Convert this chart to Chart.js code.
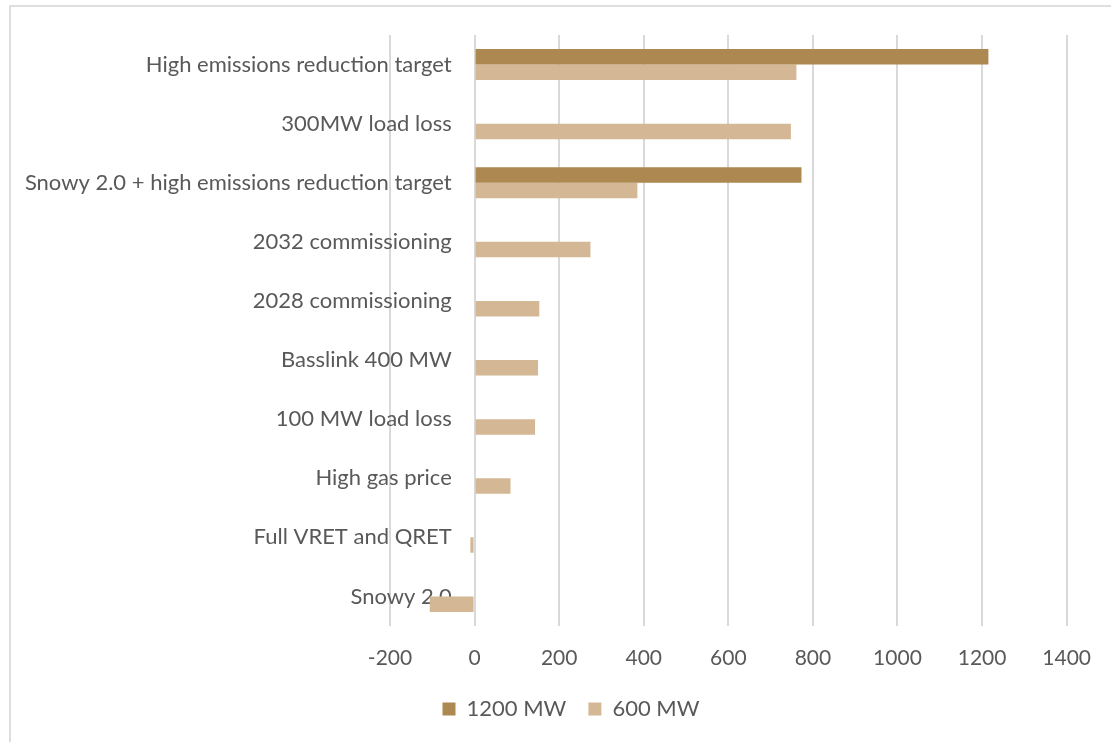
<!DOCTYPE html>
<html>
<head>
<meta charset="utf-8">
<script src="https://cdn.jsdelivr.net/npm/chart.js@4/dist/chart.umd.min.js"></script>
<style>
    html, body { margin: 0; padding: 0; background: #ffffff; overflow: hidden; }
    #wrap { position: relative; width: 1111px; height: 742px; }
    #frame { position: absolute; left: 9px; top: 5px; width: 1200px; height: 800px; border: 2px solid #dedede; box-sizing: border-box; }
    #chart { position: absolute; left: 0; top: 0; }
</style>
</head>
<body>
<div id="wrap">
    <div id="frame"></div>
    <canvas id="chart" width="1111" height="742"></canvas>
</div>
<script>
// Scenario labels, top to bottom as drawn
const scenarios = [
    'High emissions reduction target',
    '300MW load loss',
    'Snowy 2.0 + high emissions reduction target',
    '2032 commissioning',
    '2028 commissioning',
    'Basslink 400 MW',
    '100 MW load loss',
    'High gas price',
    'Full VRET and QRET',
    'Snowy 2.0',
];

// only two scenarios were run at 1200 MW
const mw1200 = [1215, null, 773, null, null, null, null, null, null, null];
const mw600 = [761, 748, 385, 274, 153, 150, 143, 85, -10, -106];

const xTicks = [-200, 0, 200, 400, 600, 800, 1000, 1200, 1400];

const textColor = '#595959';
const family = 'Lato, "Open Sans", sans-serif';
const labelFont = { family, size: 22 };
const tickFont = { family, size: 21 };

new Chart(document.getElementById('chart'), {
    type: 'bar',
    data: {
        labels: scenarios,
        datasets: [
            { label: '1200 MW', data: mw1200, backgroundColor: '#ad8850' },
            { label: '600 MW', data: mw600, backgroundColor: '#d4b896' },
        ],
    },
    options: {
        indexAxis: 'y',
        responsive: false,
        animation: false,
        categoryPercentage: 0.525,
        barPercentage: 1,
        layout: { padding: { top: 35, right: 41, bottom: 12, left: 72 } },
        plugins: {
            legend: {
                position: 'bottom',
                labels: { color: textColor, font: labelFont, boxWidth: 13, boxHeight: 13, padding: 22 },
            },
            tooltip: { enabled: false },
        },
        scales: {
            x: {
                min: xTicks[0],
                max: xTicks[xTicks.length - 1],
                afterBuildTicks: (scale) => { scale.ticks = xTicks.map(v => ({ value: v })); },
                grid: { color: '#d9d9d9', lineWidth: 2, drawTicks: false },
                border: { display: false },
                ticks: { color: textColor, font: tickFont, padding: 20, callback: (v) => String(v) },
                afterFit: (scale) => { scale.height = 50; },
            },
            // category labels hang just left of the zero line, over the plot
            y: {
                position: { x: -54 },
                z: 1,
                grid: { display: false, drawTicks: false },
                border: { display: false },
                ticks: { color: textColor, font: labelFont, padding: 0 },
            },
            // empty left gutter so the plot starts at -200
            gutter: {
                type: 'category',
                axis: 'y',
                position: 'left',
                labels: scenarios,
                grid: { display: false, drawTicks: false },
                border: { display: false },
                ticks: { display: false },
                afterFit: (scale) => { scale.width = 318; },
            },
        },
    },
});
</script>
</body>
</html>
